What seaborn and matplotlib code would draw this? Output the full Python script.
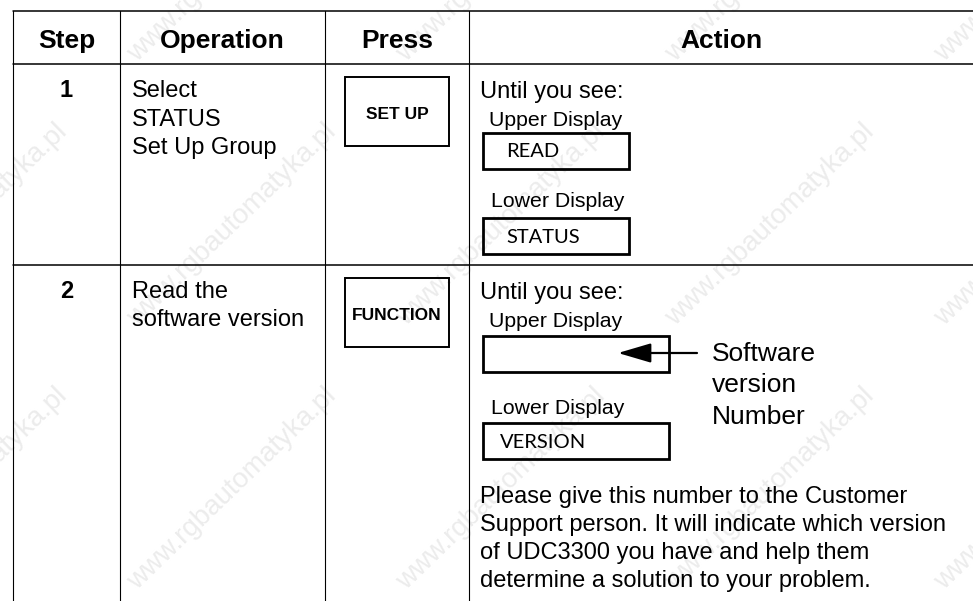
import matplotlib
matplotlib.use('Agg')
import matplotlib.pyplot as plt
from matplotlib.patches import Rectangle
import seaborn as sns

# Table content
headers = ['Step', 'Operation', 'Press', 'Action']
steps = ['1', '2']
operations = [['Select', 'STATUS', 'Set Up Group'],
              ['Read the', 'software version']]
keys = ['SET UP', 'FUNCTION']
upper_display = ['READ', '']
lower_display = ['STATUS', 'VERSION']
callout = ['Software', 'version', 'Number']
note = ['Please give this number to the Customer',
        'Support person. It will indicate which version',
        'of UDC3300 you have and help them',
        'determine a solution to your problem.']
watermark = 'www.rgbautomatyka.pl'

# Layout (pixel coordinates, y downwards)
W, H = 973, 601
col_x = [13, 120, 325, 469]
row_y = [11, 64, 265]
row_top = [64, 265]
upper_box_w = [146, 186]
upper_box_y = [133, 336]
lower_lbl_y = [207, 414]
lower_box_y = [218, 423]
line_step = 28.5

sns.set_theme(style="white")
plt.rcParams['font.family'] = ['Liberation Sans', 'DejaVu Sans']
plt.rcParams['text.color'] = 'black'

fig = plt.figure(figsize=(W / 100, H / 100), dpi=100)
ax = fig.add_axes([0, 0, 1, 1])
ax.set_xlim(0, W)
ax.set_ylim(H, 0)
ax.axis('off')

# faint watermark grid (as in the scanned page)
for ex in [68 - 269, 68, 337, 606, 875, 1144]:
    for ey in [-131, 133, 397]:
        ax.text(ex, ey, watermark, fontsize=20, color='#ececec', rotation=44,
                rotation_mode='anchor', ha='right', va='baseline', zorder=0)

# grid lines
for y in row_y:
    ax.plot([col_x[0], W], [y, y], color='black', lw=1.1, zorder=2)
for x in col_x:
    ax.plot([x, x], [row_y[0], H], color='black', lw=0.8, zorder=2)

# headers
centers = [(col_x[i] + (col_x[i + 1] if i < 3 else W)) / 2 for i in range(4)]
for cx, h in zip(centers, headers):
    ax.text(cx, 48, h, fontsize=19, fontweight='bold', ha='center', va='baseline')

disp_font = dict(family=['Lato', 'DejaVu Sans'], fontsize=14.5, color='black')

for r, top in enumerate(row_top):
    base = top + 33
    ax.text(centers[0], base, steps[r], fontsize=17, fontweight='bold',
            ha='center', va='baseline')
    for i, line in enumerate(operations[r]):
        ax.text(132, base + i * line_step, line, fontsize=17, va='baseline')

    # key box
    ax.add_patch(Rectangle((345, top + 13), 104, 69, fill=False, lw=1.4,
                           edgecolor='black', zorder=3))
    ax.text(397, top + 55, keys[r], fontsize=12.5, fontweight='bold',
            ha='center', va='baseline')

    # action column
    ax.text(480, base + 1, 'Until you see:', fontsize=17, va='baseline')
    ax.text(489, top + 62, 'Upper Display', fontsize=15.3, va='baseline')
    ax.add_patch(Rectangle((483, upper_box_y[r]), upper_box_w[r], 36, fill=False,
                           lw=2, edgecolor='black', zorder=3))
    ax.text(506, upper_box_y[r] + 24, upper_display[r], va='baseline', **disp_font)
    ax.text(491, lower_lbl_y[r], 'Lower Display', fontsize=15.3, va='baseline')
    ax.add_patch(Rectangle((483, lower_box_y[r]), upper_box_w[r], 36, fill=False,
                           lw=2, edgecolor='black', zorder=3))
    ax.text(500 if r else 506, lower_box_y[r] + 25, lower_display[r],
            va='baseline', **disp_font)

# arrow pointing to the software version
ax.annotate('', xy=(618, 353), xytext=(697, 353),
            arrowprops=dict(arrowstyle='-|>,head_length=1.7,head_width=0.5',
                            color='black', lw=1.6, shrinkA=0, shrinkB=0))
for i, line in enumerate(callout):
    ax.text(712, 361 + i * 31.5, line, fontsize=19, va='baseline')

for i, line in enumerate(note):
    ax.text(480, 503 + i * 28, line, fontsize=17, va='baseline')

plt.savefig('out.png', dpi=100)
plt.close()
